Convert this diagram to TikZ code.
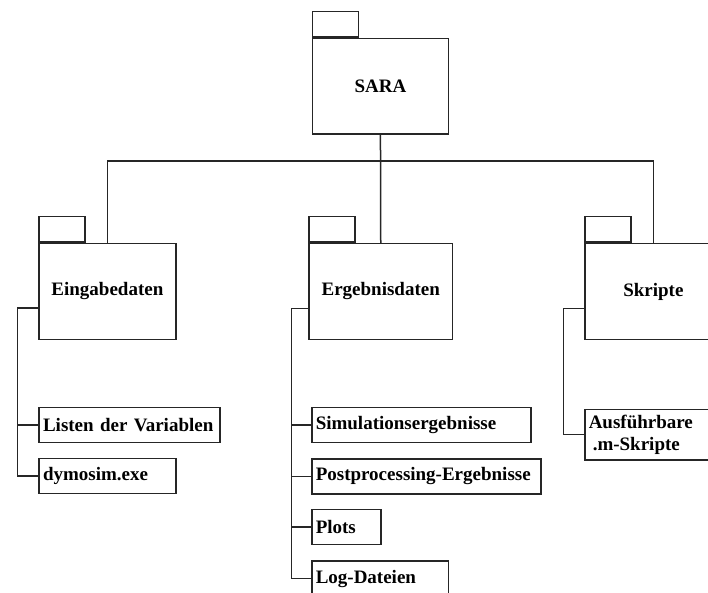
\documentclass[tikz,border=0pt]{standalone}
\usepackage{fontspec}
\setmainfont{Liberation Serif}
\begin{document}
\begin{tikzpicture}[x=1pt,y=-1pt,
  ln/.style={draw=black!85,line width=1.5pt},
  folder/.style={ln,rectangle,inner sep=0pt,anchor=north west,minimum height=95.5pt,font=\fontsize{19}{22}\selectfont\bfseries},
  tab/.style={ln,rectangle,inner sep=0pt,anchor=south west,minimum width=46pt,minimum height=25.5pt},
  leaf/.style={ln,rectangle,anchor=west,inner xsep=4pt,inner ysep=0pt,minimum height=35pt,align=left,font=\fontsize{19}{22}\selectfont\bfseries},
  conn/.style={draw=black!85,line width=1.5pt}]
\useasboundingbox (0,0) rectangle (708,593);
\clip (0,0) rectangle (708,593);
% folders
\node[folder,minimum width=136pt] (sara) at (311.7,37.7) {SARA};
\node[tab] (saratab) at (sara.north west) {};
\node[folder,minimum width=136.7pt] (eing) at (38.3,243) {Eingabedaten};
\node[tab] (eingtab) at (eing.north west) {};
\node[folder,minimum width=143.4pt] (ergeb) at (308.3,243) {Ergebnisdaten};
\node[tab] (ergebtab) at (ergeb.north west) {};
\node[folder,minimum width=136.7pt] (skript) at (584.3,243) {Skripte};
\node[tab] (skripttab) at (skript.north west) {};
% bus
\coordinate (bus) at (380,161);
\draw[conn] (sara.south) -- (ergeb.north);
\draw[conn] (eing.north) |- (bus) -| (skript.north);
% leaves
\node[leaf,text width=173pt] (listen) at (38.3,424.8) {Listen der Variablen};
\node[leaf,text width=128.7pt] (dymo) at (38.3,475.8) {dymosim.exe};
\node[leaf,text width=211pt] (sim) at (311,425) {Simulationsergebnisse};
\node[leaf,text width=221pt] (post) at (311,476.5) {Postprocessing-Ergebnisse};
\node[leaf,text width=61pt] (plots) at (311,527.2) {Plots};
\node[leaf,text width=128.7pt] (log) at (311,578.5) {Log-Dateien};
\node[leaf,text width=140pt,minimum height=50.7pt] (ausf) at (584,434.7) {Ausführbare\\\hspace*{4pt}.m-Skripte};
% trunks
\coordinate (t1) at (17.3,308);
\coordinate (t2) at (291.7,308.3);
\coordinate (t3) at (563.7,308.3);
\draw[conn] (eing.west |- t1) -- (t1) |- (dymo.west);
\draw[conn] (t1) |- (listen.west);
\draw[conn] (ergeb.west |- t2) -- (t2) |- (log.west);
\draw[conn] (t2) |- (sim.west);
\draw[conn] (t2) |- (post.west);
\draw[conn] (t2) |- (plots.west);
\draw[conn] (skript.west |- t3) -- (t3) |- (ausf.west);
\end{tikzpicture}
\end{document}
